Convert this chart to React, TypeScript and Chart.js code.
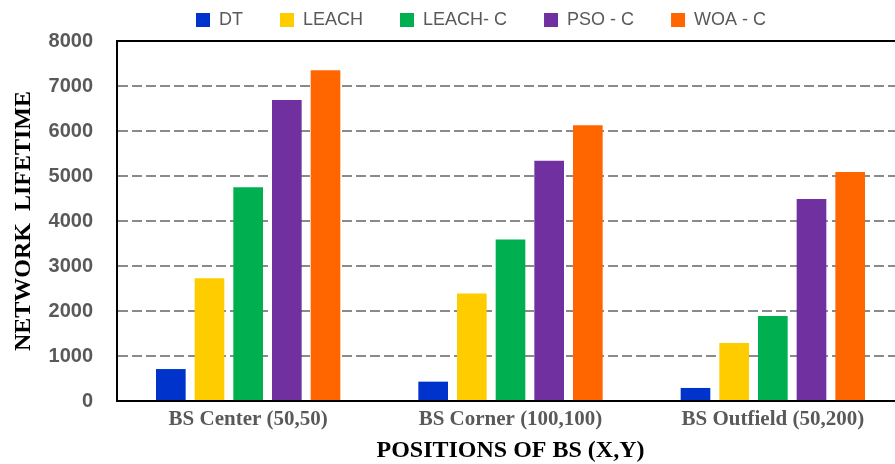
import React, { useEffect, useRef } from "react";
import { Chart, registerables } from "chart.js";

Chart.register(...registerables);

const categories = ["BS Center (50,50)", "BS Corner (100,100)", "BS Outfield (50,200)"];
const seriesNames = ["DT", "LEACH", "LEACH- C", "PSO - C", "WOA - C"];
const dtValues = [710, 430, 290];
const leachValues = [2730, 2390, 1290];
const leachCValues = [4750, 3590, 1890];
const psoCValues = [6690, 5340, 4490];
const woaCValues = [7350, 6130, 5090];
const seriesColors = ["#0033CC", "#FFCC00", "#00B050", "#7030A0", "#FF6600"];
const yTicks = [0, 1000, 2000, 3000, 4000, 5000, 6000, 7000, 8000];

const CANVAS_W = 910;
const CANVAS_H = 464;

export default function App() {
  const ref = useRef<HTMLCanvasElement | null>(null);

  useEffect(() => {
    if (!ref.current) return;
    const values = [dtValues, leachValues, leachCValues, psoCValues, woaCValues];

    const legendShift = {
      id: "legendShift",
      afterLayout(chart: any) {
        const lg = chart.legend;
        if (!lg) return;
        const pad = lg.options.labels.padding;
        const dx = 196 - (lg.left + pad);
        lg.left += dx;
        lg.right += dx;
        lg.top = 11 - pad;
      },
    };

    const plotBorder = {
      id: "plotBorder",
      afterDatasetsDraw(chart: any) {
        const { ctx, chartArea } = chart;
        ctx.save();
        ctx.strokeStyle = "#000";
        ctx.lineWidth = 2;
        ctx.strokeRect(chartArea.left, chartArea.top, chartArea.right - chartArea.left, chartArea.bottom - chartArea.top);
        ctx.restore();
      },
    };

    const chart = new Chart(ref.current, {
      type: "bar",
      data: {
        labels: categories,
        datasets: seriesNames.map((name, i) => ({
          label: name,
          data: values[i],
          backgroundColor: seriesColors[i],
          borderWidth: 0,
          categoryPercentage: 0.737,
          barPercentage: 0.767,
        })),
      },
      options: {
        responsive: false,
        animation: false,
        devicePixelRatio: 1,
        layout: { padding: { left: 0, right: 6, top: 5, bottom: 0 } },
        plugins: {
          legend: {
            display: true,
            position: "top",
            align: "start",
            maxHeight: 36,
            labels: {
              boxWidth: 14,
              boxHeight: 14,
              padding: 37,
              color: "#595959",
              font: { family: "'Liberation Sans', Arial, sans-serif", size: 18 },
            },
          },
          tooltip: { enabled: false },
        },
        scales: {
          x: {
            afterFit(scale: any) {
              scale.height = 63;
            },
            grid: { display: false, drawTicks: false },
            border: { display: true, color: "#000", width: 2 },
            ticks: {
              color: "#595959",
              padding: 6,
              font: { family: "'Liberation Serif', 'Times New Roman', serif", size: 21, weight: "bold" },
            },
            title: {
              display: true,
              text: "POSITIONS OF BS (X,Y)",
              color: "#000",
              padding: { top: 3, bottom: -1 },
              font: { family: "'Liberation Serif', 'Times New Roman', serif", size: 24, weight: "bold" },
            },
          },
          y: {
            min: 0,
            max: 8000,
            afterBuildTicks(scale: any) {
              scale.ticks = yTicks.map((v) => ({ value: v }));
            },
            afterFit(scale: any) {
              scale.width = 117;
            },
            grid: { display: true, color: "#8a8a8a", lineWidth: 2, drawTicks: false },
            border: { display: true, color: "#000", width: 2, dash: [10, 4] },
            ticks: {
              color: "#595959",
              padding: 24,
              callback: (v: any) => String(v),
              font: { family: "'Liberation Sans', Arial, sans-serif", size: 20, weight: "bold" },
            },
            title: {
              display: true,
              text: "NETWORK  LIFETIME",
              color: "#000",
              padding: { top: 9, bottom: 11 },
              font: { family: "'Liberation Serif', 'Times New Roman', serif", size: 24, weight: "bold" },
            },
          },
        },
      },
      plugins: [legendShift, plotBorder],
    } as any);

    return () => chart.destroy();
  }, []);

  return (
    <div style={{ position: "absolute", left: 0, top: 0, width: 895, height: 464, overflow: "hidden", background: "#fff" }}>
      <canvas ref={ref} width={CANVAS_W} height={CANVAS_H} style={{ width: CANVAS_W, height: CANVAS_H, display: "block" }} />
    </div>
  );
}
